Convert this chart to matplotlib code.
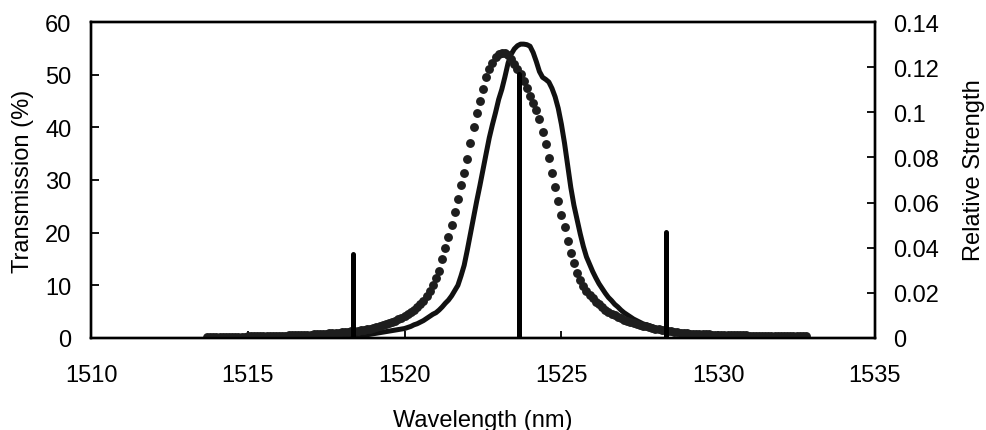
import numpy as np
import matplotlib
matplotlib.use('Agg')
import matplotlib.pyplot as plt
from matplotlib.ticker import FuncFormatter, MultipleLocator

plt.rcParams['font.family'] = ['Liberation Sans', 'DejaVu Sans']

# wavelength grid of the measured spectra (0.1 nm steps, 1513.7 .. 1532.8 nm)
wl_start = 1513.7
wl_step = 0.1

# transmission (%) - dotted trace
t_dot = [
    0.2, 0.2, 0.2,
    0.2, 0.2, 0.2, 0.2, 0.2, 0.2, 0.25, 0.25, 0.25, 0.25,          # 1514
    0.3, 0.3, 0.3, 0.3, 0.3, 0.35, 0.35, 0.35, 0.4, 0.4,            # 1515
    0.4, 0.45, 0.45, 0.5, 0.5, 0.5, 0.55, 0.55, 0.6, 0.6,           # 1516
    0.65, 0.7, 0.7, 0.75, 0.8, 0.85, 0.9, 0.95, 1.0, 1.0,           # 1517
    1.1, 1.15, 1.2, 1.3, 1.35, 1.4, 1.5, 1.6, 1.7, 1.8,             # 1518
    1.9, 2.1, 2.3, 2.5, 2.7, 2.9, 3.1, 3.3, 3.6, 3.8,               # 1519
    4.1, 4.5, 4.9, 5.3, 5.8, 6.4, 7.1, 7.9, 8.9, 10.0,              # 1520
    11.3, 12.8, 15.0, 17.1, 19.2, 21.5, 24.0, 26.4, 29.0, 31.3,     # 1521
    34.0, 37.0, 40.0, 42.8, 45.0, 47.2, 49.5, 51.0, 52.3, 53.3,     # 1522
    53.9, 54.2, 54.1, 53.7, 53.0, 52.0, 51.0, 50.1, 48.8, 47.4,     # 1523
    46.0, 44.6, 43.2, 41.5, 39.2, 36.8, 34.2, 31.3, 28.6, 26.1,     # 1524
    23.4, 21.0, 18.5, 16.2, 14.2, 12.4, 11.0, 9.9, 9.0, 8.2,        # 1525
    7.5, 6.9, 6.4, 5.9, 5.4, 5.0, 4.6, 4.3, 4.0, 3.7,               # 1526
    3.5, 3.3, 3.1, 2.9, 2.7, 2.5, 2.3, 2.2, 2.0, 1.9,               # 1527
    1.8, 1.7, 1.6, 1.5, 1.4, 1.3, 1.2, 1.1, 1.0, 0.95,              # 1528
    0.9, 0.85, 0.8, 0.8, 0.75, 0.75, 0.7, 0.7, 0.65, 0.65,          # 1529
    0.6, 0.6, 0.6, 0.55, 0.55, 0.55, 0.5, 0.5, 0.5, 0.5,            # 1530
    0.45, 0.45, 0.45, 0.45, 0.4, 0.4, 0.4, 0.4, 0.4, 0.35,          # 1531
    0.35, 0.35, 0.35, 0.3, 0.3, 0.3, 0.3, 0.3, 0.3,                 # 1532
]

# transmission (%) - solid trace
t_line = [
    0.1, 0.1, 0.1,
    0.1, 0.1, 0.1, 0.1, 0.1, 0.1, 0.1, 0.1, 0.1, 0.1,               # 1514
    0.1, 0.1, 0.1, 0.15, 0.15, 0.15, 0.15, 0.15, 0.15, 0.15,        # 1515
    0.2, 0.2, 0.2, 0.2, 0.2, 0.2, 0.2, 0.2, 0.2, 0.2,               # 1516
    0.2, 0.2, 0.25, 0.25, 0.25, 0.25, 0.3, 0.3, 0.3, 0.3,           # 1517
    0.3, 0.3, 0.35, 0.4, 0.4, 0.45, 0.5, 0.55, 0.6, 0.7,            # 1518
    0.8, 0.9, 1.0, 1.1, 1.2, 1.3, 1.4, 1.5, 1.6, 1.7,               # 1519
    1.8, 2.0, 2.2, 2.5, 2.7, 3.0, 3.3, 3.7, 4.1, 4.5,               # 1520
    4.8, 5.3, 5.9, 6.6, 7.2, 8.0, 9.0, 10.0, 11.8, 13.8,            # 1521
    16.7, 19.8, 23.0, 26.0, 28.9, 32.0, 35.0, 38.0, 40.5, 42.8,     # 1522
    45.3, 47.2, 49.6, 52.2, 53.9, 54.9, 55.5, 55.8, 55.8, 55.7,     # 1523
    55.4, 54.2, 52.5, 50.6, 49.5, 49.1, 48.6, 47.4, 45.8, 43.6,     # 1524
    40.6, 37.0, 32.8, 28.6, 25.2, 22.5, 19.8, 17.4, 15.4, 14.0,     # 1525
    12.6, 11.4, 10.3, 9.4, 8.5, 7.7, 7.1, 6.4, 5.9, 5.3,            # 1526
    4.8, 4.4, 4.0, 3.6, 3.3, 3.0, 2.7, 2.5, 2.3, 2.1,               # 1527
    1.9, 1.7, 1.5, 1.4, 1.3, 1.2, 1.1, 1.0, 0.9, 0.85,              # 1528
    0.8, 0.75, 0.7, 0.65, 0.6, 0.6, 0.55, 0.5, 0.5, 0.45,           # 1529
    0.45, 0.4, 0.4, 0.4, 0.35, 0.35, 0.35, 0.3, 0.3, 0.3,           # 1530
    0.3, 0.3, 0.25, 0.25, 0.25, 0.25, 0.2, 0.2, 0.2, 0.2,           # 1531
    0.2, 0.2, 0.2, 0.2, 0.2, 0.15, 0.15, 0.15, 0.15,                # 1532
]

# relative strength of the three lines (right axis)
line_wl = [1518.35, 1523.66, 1528.34]
line_strength = [0.037, 0.117, 0.047]

wl = wl_start + wl_step * np.arange(len(t_dot))

fs = 17

fig = plt.figure(figsize=(9.87, 4.31), dpi=100)
fig.subplots_adjust(left=0.0922, right=0.8865, top=0.9466, bottom=0.2135)
ax = fig.add_subplot(111)
ax2 = ax.twinx()

ax.plot(wl, t_line, color='#111111', lw=3.6, solid_capstyle='round', zorder=3)
ax.plot(wl, t_dot, linestyle='none', marker='o', markersize=6.4,
        color='#1e1e1e', markeredgewidth=0, zorder=4)

ax2.vlines(line_wl, 0, line_strength, color='black', lw=3.6,
           capstyle='round', zorder=2)

ax.set_xlim(1510, 1535)
ax.set_ylim(0, 60)
ax2.set_ylim(0, 0.14)
ax.xaxis.set_major_locator(MultipleLocator(5))
ax.yaxis.set_major_locator(MultipleLocator(10))
ax2.yaxis.set_major_locator(MultipleLocator(0.02))
ax2.yaxis.set_major_formatter(FuncFormatter(lambda v, p: f'{v:g}'))

ax.tick_params(axis='x', direction='in', length=5, width=1.3, labelsize=fs, pad=19)
ax.tick_params(axis='y', direction='in', length=6, width=1.3, labelsize=fs, pad=14)
ax2.tick_params(axis='y', direction='in', length=6, width=1.3, labelsize=fs, pad=13)

for a in (ax, ax2):
    for s in a.spines.values():
        s.set_linewidth(1.7)

ax.set_xlabel('Wavelength (nm)', fontsize=fs, labelpad=16)
ax.set_ylabel('Transmission (%)', fontsize=fs, labelpad=8)
ax2.set_ylabel('Relative Strength', fontsize=fs, labelpad=17)
ax2.yaxis.label.set_y(0.535)

fig.savefig('out.png', dpi=100)
